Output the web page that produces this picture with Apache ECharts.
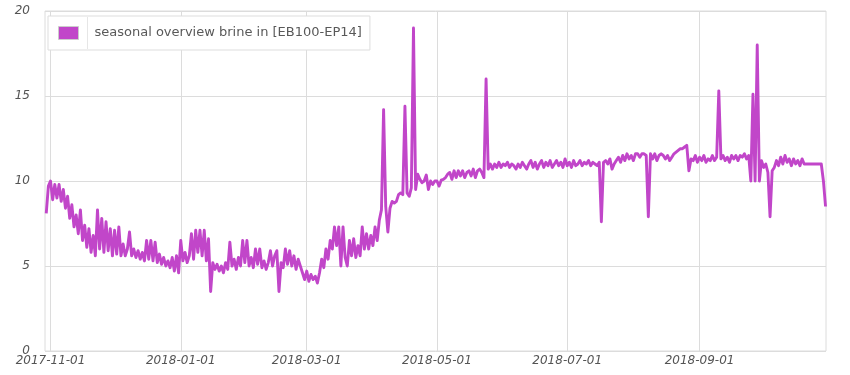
<!DOCTYPE html>
<html>
<head>
<meta charset="utf-8">
<script src="https://cdn.jsdelivr.net/npm/echarts@6/dist/echarts.min.js"></script>
<style>html,body{margin:0;padding:0;background:#fff;}#c{width:850px;height:375px;}</style>
</head>
<body>
<div id="c"></div>
<script>
// ---- data (daily readings, first reading 2017-10-30) ----
const seriesName = 'seasonal overview brine in [EB100-EP14]';
const startDate = '2017-10-30';
const novDec = [8.1,9.7,10.0,8.9,9.8,9.0,9.8,8.8,9.5,8.4,9.1,7.8,8.6,7.3,8.0,6.9,8.3,6.5,7.4,6.1,7.2,5.8,6.8,5.6,8.3,6.0,7.8,5.8,7.6,5.9,7.2,5.6,7.1,5.7,7.3,5.6,6.3,5.6,6.0,7.0,5.6,6.0,5.5,5.9,5.4,5.8,5.3,6.5,5.4,6.5,5.3,6.4,5.2,5.7,5.1,5.5,5.0,5.3,4.9,5.5,4.7,5.6,4.6];
const janFeb = [6.5,5.3,5.8,5.2,5.6,6.9,5.4,7.1,5.8,7.1,5.6,7.1,5.3,6.6,3.5,5.2,4.8,5.1,4.7,5.0,4.6,5.2,4.8,6.4,5.0,5.4,4.8,5.5,5.0,6.5,5.2,6.5,5.0,5.5,4.9,6.0,5.1,6.0,4.9,5.3,4.8,5.2,5.9,5.0,5.6,5.9,3.5,5.2,4.9,6.0,5.1,5.9,5.0,5.6,4.8,5.4,5.0,4.6,4.2];
const marApr = [4.7,4.1,4.5,4.2,4.4,4.0,4.6,5.4,4.9,6.0,5.4,6.5,6.0,7.3,6.2,7.3,5.0,7.3,5.5,5.0,6.5,5.6,6.6,5.5,6.2,5.6,7.3,6.0,6.9,6.0,6.8,6.2,7.3,6.5,7.7,8.3,14.2,8.5,7.0,8.4,8.8,8.7,8.8,9.2,9.3,9.2,14.4,9.3,9.1,9.6,19.0,9.5,10.4,10.1,9.9,10.0,10.35,9.5,10.0,9.8,10.0];
const mayJun = [10.0,9.7,10.05,10.1,10.2,10.4,10.5,10.1,10.6,10.2,10.6,10.3,10.6,10.2,10.5,10.6,10.3,10.7,10.2,10.6,10.7,10.5,10.2,16.0,10.7,11.0,10.7,11.0,10.8,11.1,10.8,11.0,10.9,11.1,10.8,11.0,10.9,10.7,11.0,10.8,11.1,10.9,10.7,11.0,11.2,10.8,11.1,10.7,11.0,11.2,10.8,11.1,10.9,11.2,10.8,11.0,11.2,10.9,11.1,10.8,11.3];
const julAug = [10.9,11.1,10.8,11.2,10.9,11.0,11.2,10.9,11.1,11.0,11.2,10.9,11.1,11.0,10.9,11.1,7.6,11.1,11.2,11.0,11.3,10.7,11.0,11.2,11.4,11.1,11.5,11.2,11.6,11.3,11.5,11.2,11.6,11.6,11.4,11.6,11.6,11.5,7.9,11.6,11.3,11.6,11.2,11.5,11.6,11.5,11.3,11.5,11.2,11.4,11.6,11.7,11.8,11.9,11.9,12.0,12.1,10.6,11.3,11.2,11.5,11.1];
const sepOct = [11.4,11.2,11.5,11.1,11.3,11.2,11.5,11.2,11.4,15.3,11.3,11.5,11.2,11.4,11.1,11.5,11.3,11.5,11.2,11.5,11.4,11.6,11.3,11.5,10.0,15.1,10.0,18.0,10.0,11.2,10.8,11.0,10.5,7.9,10.6,10.8,11.2,10.9,11.4,11.0,11.5,11.1,11.3,10.9,11.3,11.0,11.2,10.9,11.3,11.0,11.0,11.0,11.0,11.0,11.0,11.0,11.0,11.0,10.0,8.5];
const xTickLabels = ['2017-11-01','2018-01-01','2018-03-01','2018-05-01','2018-07-01','2018-09-01'];
const xRange = ['2017-10-29T10:00', '2018-10-30T05:00'];
const yMin = 0, yMax = 20, yStep = 5;

// ---- build: x positions are day numbers counted from the first tick date ----
const DAY = 86400000;
function toMs(s){ const m = s.match(/(\d+)-(\d+)-(\d+)(?:T(\d+):(\d+))?/); return Date.UTC(+m[1], +m[2]-1, +m[3], +(m[4]||0), +(m[5]||0)); }
const origin = toMs(xTickLabels[0]);
const toDay = s => (toMs(s) - origin) / DAY;
const firstDay = toDay(startDate);
const values = [].concat(novDec, janFeb, marApr, mayJun, julAug, sepOct);
const seriesData = values.map((v, i) => [firstDay + i, v]);
const tickDays = xTickLabels.map(toDay);
const labelMap = {}; tickDays.forEach((d, i) => labelMap[d] = xTickLabels[i]);

const color = '#c146c9';
const chart = echarts.init(document.getElementById('c'), null, {renderer: 'canvas'});
chart.setOption({
  animation: false,
  backgroundColor: '#fff',
  grid: {left: 45, right: 24, top: 11, bottom: 24, show: true, borderColor: '#dcdcdc', borderWidth: 1, outerBoundsMode: 'none'},
  legend: {
    data: [seriesName], left: 48, top: 16, orient: 'horizontal', icon: 'rect',
    itemWidth: 20, itemHeight: 13, padding: [10, 8, 10, 10],
    backgroundColor: '#fff', borderColor: '#dddddd', borderWidth: 1,
    itemStyle: {borderColor: '#cccccc', borderWidth: 1},
    textStyle: {fontFamily: 'DejaVu Sans', fontSize: 13, color: '#595959', padding: [0, 0, 0, 11]}
  },
  graphic: [{type: 'line', z: 100, shape: {x1: 87.5, y1: 17, x2: 87.5, y2: 49}, style: {stroke: '#e6e6e6', lineWidth: 1}}],
  xAxis: {
    type: 'value', min: toDay(xRange[0]), max: toDay(xRange[1]),
    axisLine: {show: false}, axisTick: {show: false, customValues: tickDays},
    splitLine: {show: true, lineStyle: {color: '#dcdcdc', width: 1}},
    axisLabel: {customValues: tickDays, margin: 4, fontFamily: 'DejaVu Sans', fontSize: 12, fontStyle: 'italic', color: '#545454',
      formatter: v => labelMap[v] || ''}
  },
  yAxis: {
    type: 'value', min: yMin, max: yMax, interval: yStep,
    axisLine: {show: false}, axisTick: {show: false},
    splitLine: {show: true, lineStyle: {color: '#dcdcdc', width: 1}},
    axisLabel: {margin: 15, fontFamily: 'DejaVu Sans', fontSize: 12, fontStyle: 'italic', color: '#545454'}
  },
  series: [{
    name: seriesName, type: 'line', data: seriesData, showSymbol: false, symbol: 'none',
    lineStyle: {width: 2.9, color: color, join: 'round'}, itemStyle: {color: color}, z: 3
  }]
});
</script>
</body>
</html>
